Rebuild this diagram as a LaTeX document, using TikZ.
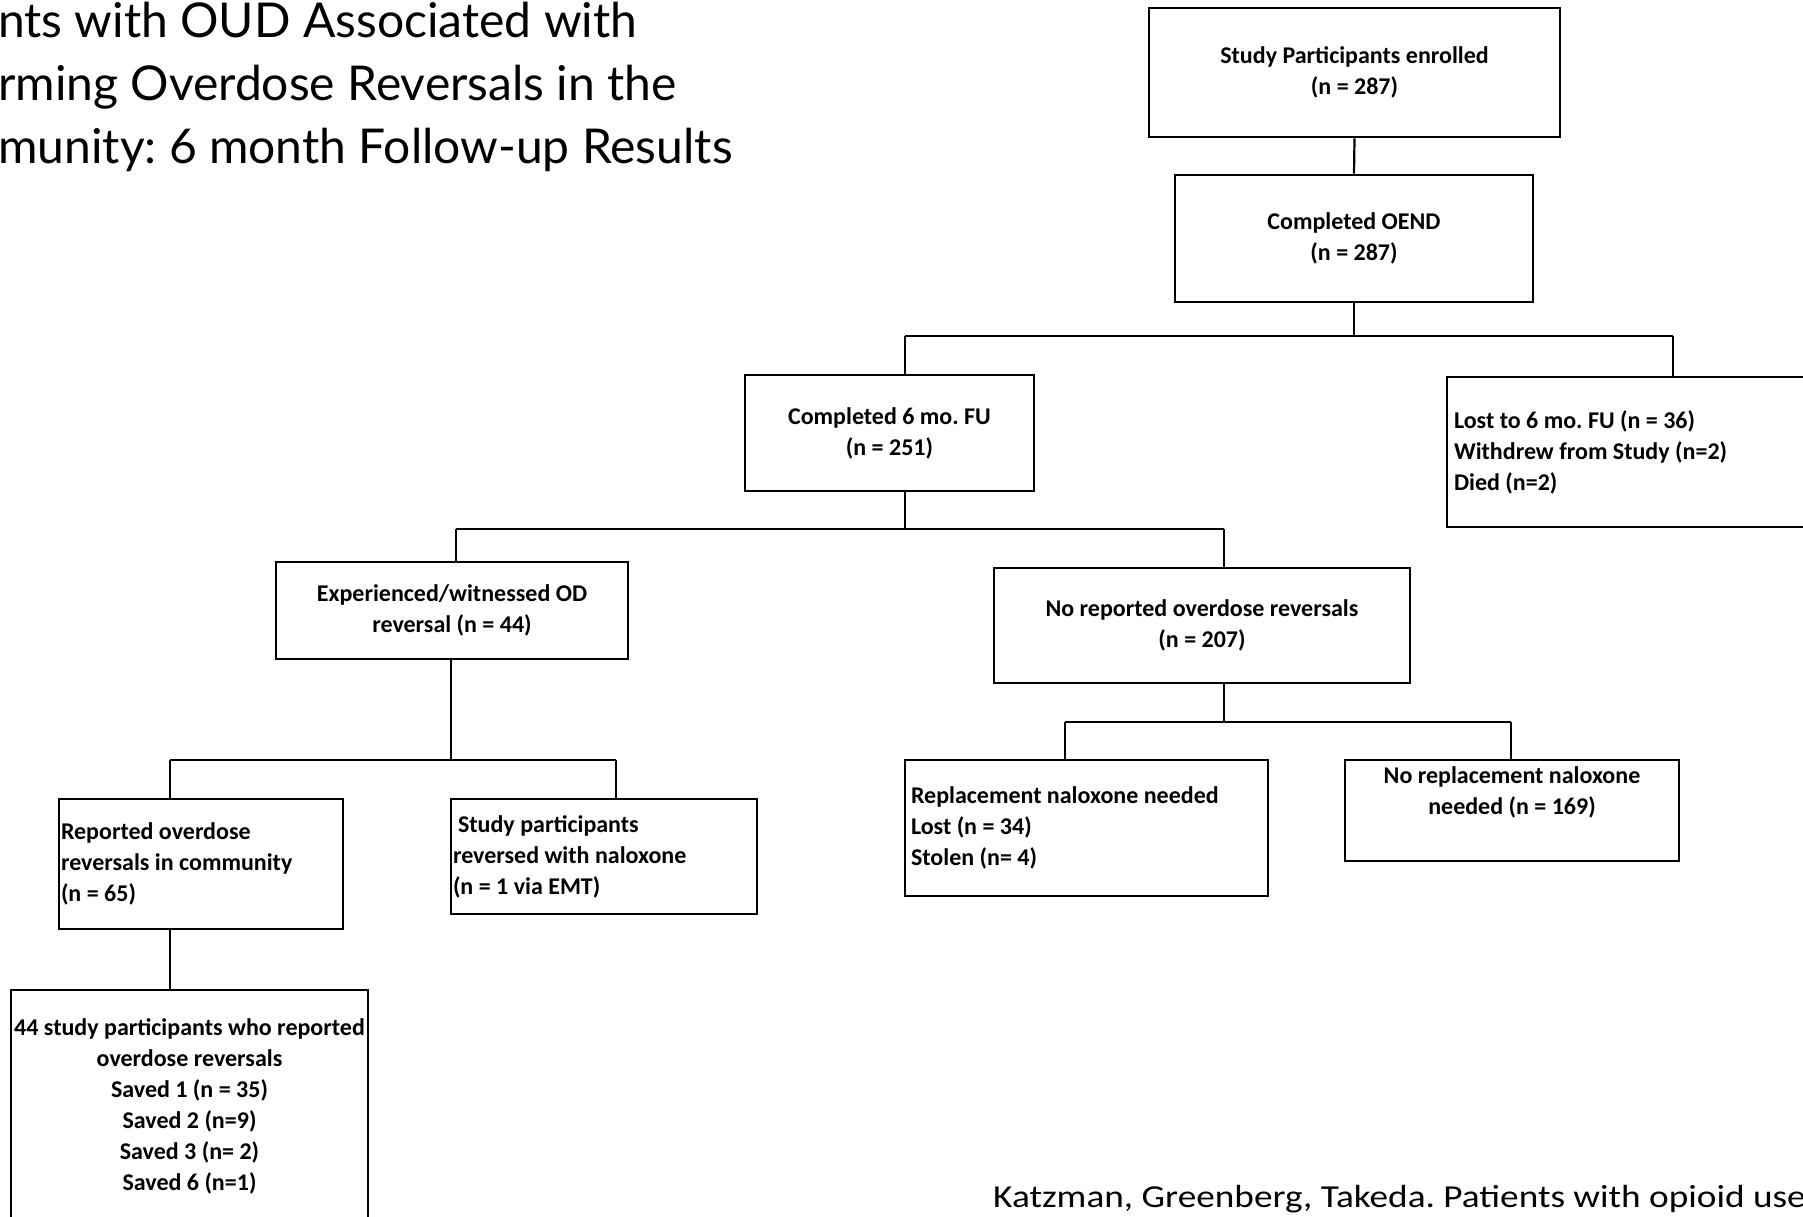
\documentclass[tikz,border=0pt]{standalone}
\usepackage{fontspec}
\setmainfont{Carlito}
\newfontfamily\titlefont{Lato}
\begin{document}
\frenchspacing
\begin{tikzpicture}[x=1pt,y=-1pt,
  box/.style={draw, line width=2.6pt, inner ysep=0pt, font=\bfseries\fontsize{24}{31}\selectfont},
  conn/.style={line width=2.2pt},
  bar/.style={line width=2.8pt},
  titletext/.style={anchor=base west, inner sep=0pt, font=\titlefont\fontsize{48}{63}\selectfont},
  foot/.style={anchor=base west, inner sep=0pt, font=\fontsize{32}{40}\selectfont}]
\useasboundingbox (0,0) rectangle (1803,1216);
\clip (0,0) rectangle (1803,1216);
\fill[white] (0,0) rectangle (1803,1216);

% title and footer
\node[titletext] (t1) at (-2,37) {nts with OUD Associated with};
\node[titletext] (t2) at (-2,100) {rming Overdose Reversals in the};
\node[titletext] (t3) at (-2,163) {munity: 6 month Follow-up Results};
\node[foot] (ft) at (993,1207) {\scalebox{1.165}[1]{Katzman, Greenberg, Takeda. Patients with opioid use}};

% boxes
\node[box, inner xsep=5pt, minimum width=411pt, minimum height=129pt, align=center] (b1) at (1354.5,72.5) {Study Participants enrolled\\(n = 287)};
\node[box, inner xsep=5pt, minimum width=358pt, minimum height=127pt, align=center] (b2) at (1354,238.5) {Completed OEND\\(n = 287)};
\node[box, inner xsep=5pt, minimum width=289pt, minimum height=116pt, align=center] (b3) at (889.5,433) {Completed 6 mo. FU\\(n = 251)};
\node[box, inner xsep=7pt, text width=369pt, minimum height=150pt, align=flush left] (b4) at (1638.5,452) {Lost to 6 mo. FU (n = 36)\\Withdrew from Study (n=2)\\Died (n=2)};
\node[box, inner xsep=5pt, minimum width=352pt, minimum height=97pt, align=center] (b5) at (452,610.5) {Experienced/witnessed OD\\reversal (n = 44)};
\node[box, inner xsep=5pt, minimum width=416pt, minimum height=115pt, align=center] (b6) at (1202,625.5) {No reported overdose reversals\\(n = 207)};
\node[box, inner xsep=2pt, text width=280pt, minimum height=130pt, align=flush left] (b7) at (201,864) {Reported overdose\\reversals in community\\(n = 65)};
\node[box, inner xsep=2pt, text width=302pt, minimum height=115pt, align=flush left] (b8) at (604,856.5) {\hspace{5pt}Study participants\\reversed with naloxone\\(n = 1 via EMT)};
\node[box, inner xsep=1pt, minimum width=357pt, minimum height=232pt, align=center] (b9) at (189.5,1106) {44 study participants who reported\\overdose reversals\\Saved 1 (n = 35)\\Saved 2 (n=9)\\Saved 3 (n= 2)\\Saved 6 (n=1)};
\node[box, inner xsep=6pt, text width=351pt, minimum height=136pt, align=flush left] (b10) at (1086.5,828) {Replacement naloxone needed\\Lost (n = 34)\\Stolen (n= 4)};
\node[box, inner xsep=5pt, minimum width=334pt, minimum height=101pt, align=center] (b11) at (1512,810.5) {No replacement naloxone\\needed (n = 169)\\\strut};

% junction points
\coordinate (h1l) at (905,336);
\coordinate (h1r) at (1673,336);
\coordinate (h2l) at (456,529);
\coordinate (h2r) at (1224,529);
\coordinate (h3l) at (170,760);
\coordinate (h3r) at (616,760);
\coordinate (v3) at (451,760);
\coordinate (h4l) at (1065,722);
\coordinate (h4r) at (1511,722);

% connectors
\draw[conn] (b1.south) -- (b2.north);
\draw[conn] (b2.south) -- (b2.south |- h1l);
\draw[bar] (h1l) -- (h1r);
\draw[conn] (h1l) -- (h1l |- b3.north);
\draw[conn] (h1r) -- (h1r |- b4.north);
\draw[conn] (h1l |- b3.south) -- (h1l |- h2l);
\draw[bar] (h2l) -- (h2r);
\draw[conn] (h2l) -- (h2l |- b5.north);
\draw[conn] (h2r) -- (h2r |- b6.north);
\draw[conn] (v3 |- b5.south) -- (v3);
\draw[bar] (h3l) -- (h3r);
\draw[conn] (h3l) -- (h3l |- b7.north);
\draw[conn] (h3r) -- (h3r |- b8.north);
\draw[conn] (h3l |- b7.south) -- (h3l |- b9.north);
\draw[conn] (h2r |- b6.south) -- (h2r |- h4l);
\draw[bar] (h4l) -- (h4r);
\draw[conn] (h4l) -- (h4l |- b10.north);
\draw[conn] (h4r) -- (h4r |- b11.north);
\end{tikzpicture}
\end{document}
